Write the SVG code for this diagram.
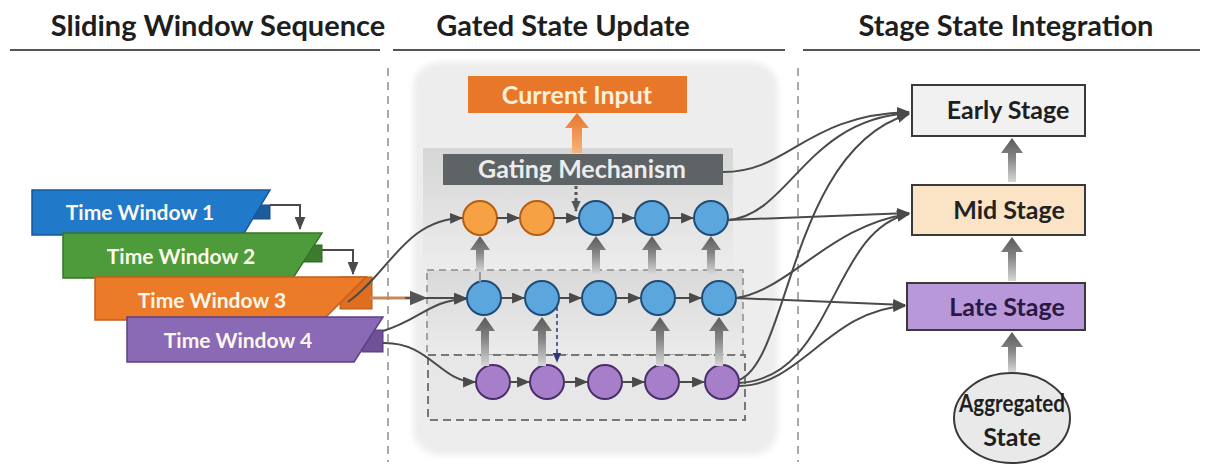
<svg xmlns="http://www.w3.org/2000/svg" width="1210" height="472" viewBox="0 0 1210 472">
  <defs>
    <style>
      .title { font-family: Lato, "Open Sans", "Liberation Sans", sans-serif; font-weight: 700; font-size: 29px; fill: #1e1e1e; text-anchor: middle; }
      .rule { stroke: #555; stroke-width: 2; }
      .sep { stroke: #a9a9a9; stroke-width: 2; stroke-dasharray: 8 6; fill: none; }
      .twtext { font-family: Lato, "Open Sans", "Liberation Sans", sans-serif; font-weight: 700; font-size: 21px; fill: #fbf8ea; text-anchor: middle; }
      .boxtext { font-family: Lato, "Open Sans", "Liberation Sans", sans-serif; font-weight: 700; font-size: 25px; text-anchor: middle; }
      .link { fill: none; stroke: #4a4a4a; stroke-width: 2; marker-end: url(#ah); }
      .blue { fill: #5ba6dc; stroke: #1f4c78; stroke-width: 2; }
      .orange { fill: #f6a244; stroke: #b75e12; stroke-width: 2; }
      .purple { fill: #a67ec9; stroke: #4b2f6c; stroke-width: 2; }
      .up { fill: url(#gUp); }
      .stage { stroke: #3a3a3a; stroke-width: 2; }
    </style>
    <marker id="ah" viewBox="0 0 12 10" refX="11" refY="5" markerWidth="13" markerHeight="11" markerUnits="userSpaceOnUse" orient="auto">
      <path d="M0,0 L12,5 L0,10 Z" fill="#4a4a4a"/>
    </marker>
    <marker id="ahBig" viewBox="0 0 12 10" refX="11" refY="5" markerWidth="18" markerHeight="16" markerUnits="userSpaceOnUse" orient="auto">
      <path d="M0,0 L12,5 L0,10 Z" fill="#555"/>
    </marker>
    <marker id="ahNavy" viewBox="0 0 12 10" refX="11" refY="5" markerWidth="10" markerHeight="9" markerUnits="userSpaceOnUse" orient="auto">
      <path d="M0,0 L12,5 L0,10 Z" fill="#2b3a7c"/>
    </marker>
    <marker id="ahDark" viewBox="0 0 12 10" refX="11" refY="5" markerWidth="11" markerHeight="10" markerUnits="userSpaceOnUse" orient="auto">
      <path d="M0,0 L12,5 L0,10 Z" fill="#555"/>
    </marker>
    <linearGradient id="gUp" x1="0" y1="0" x2="0" y2="1">
      <stop offset="0" stop-color="#5a5a5a"/>
      <stop offset="0.45" stop-color="#858585"/>
      <stop offset="1" stop-color="#d6d6d6"/>
    </linearGradient>
    <linearGradient id="gOrange" x1="0" y1="0" x2="0" y2="1">
      <stop offset="0" stop-color="#e8752a"/>
      <stop offset="1" stop-color="#f6b47c"/>
    </linearGradient>
    <linearGradient id="gBand" x1="0" y1="0" x2="0" y2="1">
      <stop offset="0" stop-color="#d6d6d6"/>
      <stop offset="1" stop-color="#ececec"/>
    </linearGradient>
    <linearGradient id="gMid" x1="0" y1="0" x2="0" y2="1">
      <stop offset="0" stop-color="#d9d9d9"/>
      <stop offset="1" stop-color="#ebebeb"/>
    </linearGradient>
    <filter id="soft" x="-10%" y="-10%" width="120%" height="120%">
      <feGaussianBlur stdDeviation="3"/>
    </filter>
  </defs>

  <rect width="1210" height="472" fill="#ffffff"/>

  <!-- section titles -->
  <g id="titles">
    <text class="title" x="218" y="36">Sliding Window Sequence</text>
    <text class="title" x="563" y="36">Gated State Update</text>
    <text class="title" x="1006" y="36">Stage State Integration</text>
    <line class="rule" x1="10" y1="50" x2="380" y2="50"/>
    <line class="rule" x1="393" y1="50" x2="785" y2="50"/>
    <line class="rule" x1="803" y1="50" x2="1200" y2="50"/>
  </g>

  <!-- column separators -->
  <g id="separators">
    <line class="sep" x1="388" y1="68" x2="388" y2="462"/>
    <line class="sep" x1="798" y1="68" x2="798" y2="462"/>
  </g>

  <!-- central panel -->
  <g id="panel">
    <rect x="413" y="62" width="365" height="393" rx="26" fill="#ededed" filter="url(#soft)"/>
    <rect x="423" y="148" width="310" height="120" fill="url(#gBand)"/>
    <rect x="427" y="270" width="316" height="85" fill="url(#gMid)" stroke="#8a8a8a" stroke-width="1.5" stroke-dasharray="7 5"/>
    <rect x="428" y="355" width="317" height="65" fill="#e7e7e7" stroke="#777" stroke-width="2" stroke-dasharray="8 5"/>
  </g>

  <!-- time windows -->
  <g id="tw1">
    <rect x="248" y="205" width="22" height="14" fill="#1a5c9c" stroke="#164d85" stroke-width="1"/>
    <path d="M32,190 L270,190 L243,235 L32,235 Z" fill="#2179c9" stroke="#17579a" stroke-width="1.5"/>
    <text class="twtext" x="140" y="220">Time Window 1</text>
  </g>
  <g id="tw2">
    <rect x="303" y="245" width="19" height="17" fill="#3c7d2d" stroke="#2f6624" stroke-width="1"/>
    <path d="M63,233 L322,233 L293,278 L63,278 Z" fill="#4e9b3b" stroke="#367428" stroke-width="1.5"/>
    <text class="twtext" x="181" y="264">Time Window 2</text>
  </g>
  <g id="tw3">
    <rect x="340" y="277" width="32" height="32" fill="#df6f1e" stroke="#b8581a" stroke-width="1"/>
    <path d="M95,277 L366,277 L323,320 L95,320 Z" fill="#eb7b29" stroke="#c0601c" stroke-width="1.5"/>
    <text class="twtext" x="212" y="308">Time Window 3</text>
  </g>
  <g id="tw4">
    <rect x="362" y="330" width="21" height="22" fill="#6f5198" stroke="#553a7c" stroke-width="1"/>
    <path d="M127,317 L383,317 L354,362 L127,362 Z" fill="#8a69b5" stroke="#5c4085" stroke-width="1.5"/>
    <text class="twtext" x="238" y="348">Time Window 4</text>
  </g>

  <!-- gating block -->
  <g id="current-input">
    <rect x="468" y="76" width="219" height="37" fill="#e8772a"/>
    <text class="boxtext" x="577" y="104" fill="#fcf0dc" font-size="26">Current Input</text>
  </g>
  <g id="gating">
    <rect x="443" y="154" width="280" height="31" fill="#5e6365"/>
    <text class="boxtext" x="582" y="178" fill="#ececec" font-size="22.5">Gating Mechanism</text>
  </g>

  <!-- state rows -->
  <g id="row1">
    <circle class="orange" cx="480" cy="218" r="17"/>
    <circle class="orange" cx="537" cy="218" r="17"/>
    <circle class="blue" cx="596" cy="218" r="17"/>
    <circle class="blue" cx="652" cy="218" r="17"/>
    <circle class="blue" cx="711" cy="218" r="17"/>
  </g>
  <g id="row2">
    <circle class="blue" cx="484" cy="298" r="17"/>
    <circle class="blue" cx="542" cy="298" r="17"/>
    <circle class="blue" cx="599" cy="298" r="17"/>
    <circle class="blue" cx="658" cy="298" r="17"/>
    <circle class="blue" cx="719" cy="298" r="17"/>
  </g>
  <g id="row3">
    <circle class="purple" cx="493" cy="382" r="17"/>
    <circle class="purple" cx="547" cy="382" r="17"/>
    <circle class="purple" cx="605" cy="382" r="17"/>
    <circle class="purple" cx="662" cy="382" r="17"/>
    <circle class="purple" cx="722" cy="382" r="17"/>
  </g>

  <!-- stage boxes -->
  <g id="early-stage">
    <rect class="stage" x="912" y="85" width="173" height="51" fill="#f1f1f1"/>
    <text class="boxtext" x="1008" y="119" fill="#1f1f1f">Early Stage</text>
  </g>
  <g id="mid-stage">
    <rect class="stage" x="912" y="185" width="173" height="50" fill="#fbe4c5"/>
    <text class="boxtext" x="1009" y="219" fill="#222">Mid Stage</text>
  </g>
  <g id="late-stage">
    <rect class="stage" x="907" y="283" width="178" height="47" fill="#b898d8"/>
    <text class="boxtext" x="1007" y="316" fill="#2a1944">Late Stage</text>
  </g>
  <g id="aggregated-state">
    <ellipse cx="1012" cy="418" rx="58" ry="45" fill="#e9e9e9" stroke="#3a3a3a" stroke-width="2"/>
    <text class="boxtext" x="1012" y="412" fill="#1f1f1f" font-size="16" textLength="106" lengthAdjust="spacingAndGlyphs">Aggregated</text>
    <text class="boxtext" x="1012" y="446" fill="#1f1f1f" font-size="16.5">State</text>
  </g>

  <!-- connectors -->
  <g id="connectors">
    <!-- window hand-offs -->
    <path class="link" d="M270,205 L300,205 L300,229"/>
    <path class="link" d="M322,250 L353,250 L353,274"/>

    <!-- windows into state rows -->
    <path class="link" d="M348,302 C390,272 405,220 462,218"/>
    <line x1="370" y1="298" x2="414" y2="298" stroke="#c8875a" stroke-width="3"/>
    <path d="M405,298 L426,298" fill="none" stroke="#555" stroke-width="2" marker-end="url(#ahBig)"/>
    <path class="link" d="M426,298 L466,298"/>
    <path class="link" d="M383,331 C420,320 430,300 466,299"/>
    <path class="link" d="M383,343 C430,342 440,382 475,382"/>

    <!-- row transitions -->
    <path class="link" d="M497,218 L519,218"/>
    <path class="link" d="M554,218 L578,218"/>
    <path class="link" d="M613,218 L634,218"/>
    <path class="link" d="M669,218 L693,218"/>
    <path class="link" d="M501,298 L524,298"/>
    <path class="link" d="M559,298 L581,298"/>
    <path class="link" d="M616,298 L640,298"/>
    <path class="link" d="M675,298 L701,298"/>
    <path class="link" d="M510,382 L529,382"/>
    <path class="link" d="M564,382 L587,382"/>
    <path class="link" d="M622,382 L644,382"/>
    <path class="link" d="M679,382 L704,382"/>

    <!-- vertical state lifts -->
    <line x1="480" y1="255" x2="480" y2="282" stroke="#9a9a9a" stroke-width="2"/>
    <path class="up" d="M480,236 L490,250 L484,250 L484,272 L476,272 L476,250 L470,250 Z"/>
    <path class="up" d="M596,236 L606,250 L600,250 L600,274 L592,274 L592,250 L586,250 Z"/>
    <path class="up" d="M652,236 L662,250 L656,250 L656,274 L648,274 L648,250 L642,250 Z"/>
    <path class="up" d="M711,236 L721,250 L715,250 L715,274 L707,274 L707,250 L701,250 Z"/>
    <path class="up" d="M485,317 L495,331 L489,331 L489,366 L481,366 L481,331 L475,331 Z"/>
    <path class="up" d="M542,317 L552,331 L546,331 L546,366 L538,366 L538,331 L532,331 Z"/>
    <path class="up" d="M660,317 L670,331 L664,331 L664,366 L656,366 L656,331 L650,331 Z"/>
    <path class="up" d="M719,317 L729,331 L723,331 L723,366 L715,366 L715,331 L709,331 Z"/>

    <!-- gating signals -->
    <path d="M576,186 L576,211" fill="none" stroke="#555" stroke-width="3" stroke-dasharray="3 3" marker-end="url(#ahDark)"/>
    <path d="M557,307 L557,362" fill="none" stroke="#2b3a7c" stroke-width="1.5" stroke-dasharray="4 3" marker-end="url(#ahNavy)"/>
    <path d="M577,113 L589,128 L582,128 L582,153 L572,153 L572,128 L565,128 Z" fill="url(#gOrange)"/>

    <!-- into stage boxes -->
    <path class="link" d="M723,172 C790,172 805,115 909,112"/>
    <path class="link" d="M728,220 C790,215 805,120 909,113"/>
    <path class="link" d="M728,220 L909,213"/>
    <path class="link" d="M736,298 C790,290 830,225 909,214"/>
    <path class="link" d="M736,298 L905,305"/>
    <path class="link" d="M739,380 C790,360 790,150 909,114"/>
    <path class="link" d="M739,383 C835,378 830,230 909,214"/>
    <path class="link" d="M739,386 C800,386 830,310 905,306"/>

    <!-- stage progression -->
    <path class="up" d="M1012,138 L1023,153 L1016,153 L1016,182 L1008,182 L1008,153 L1001,153 Z"/>
    <path class="up" d="M1012,237 L1023,252 L1016,252 L1016,281 L1008,281 L1008,252 L1001,252 Z"/>
    <path class="up" d="M1012,332 L1023,347 L1016,347 L1016,372 L1008,372 L1008,347 L1001,347 Z"/>
  </g>
</svg>
